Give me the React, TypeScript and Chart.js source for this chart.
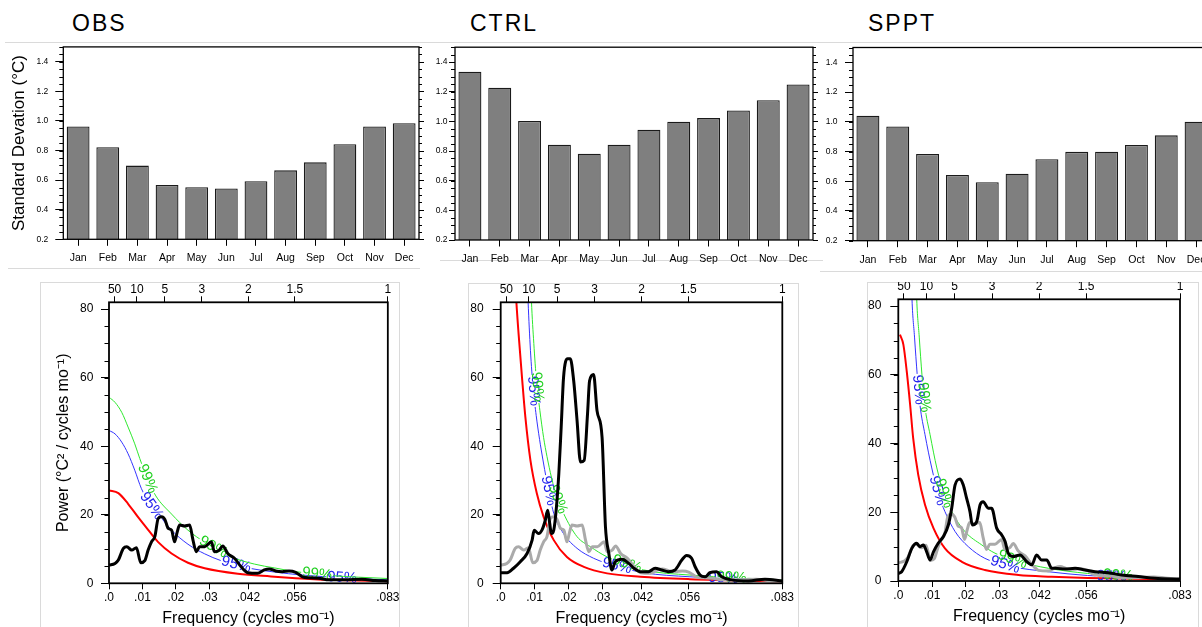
import React, { useEffect, useRef } from "react";
import { Chart, registerables } from "chart.js";

Chart.register(...registerables);

const FONT = "'Liberation Sans', Arial, Helvetica, sans-serif";
const LABEL_SIZE = 15;

// ---------- top row: monthly standard deviation ----------
const months = ["Jan", "Feb", "Mar", "Apr", "May", "Jun", "Jul", "Aug", "Sep", "Oct", "Nov", "Dec"];
const obsStd = [0.963, 0.822, 0.698, 0.567, 0.552, 0.543, 0.592, 0.666, 0.72, 0.843, 0.963, 0.984];
const ctrlStd = [1.335, 1.227, 1.003, 0.842, 0.782, 0.842, 0.943, 0.997, 1.022, 1.074, 1.142, 1.248];
const spptStd = [1.041, 0.968, 0.784, 0.642, 0.594, 0.651, 0.748, 0.798, 0.799, 0.844, 0.909, 1.0];
const stdTicks = [0.2, 0.4, 0.6, 0.8, 1.0, 1.2, 1.4];

// ---------- bottom row: power spectra ----------
const freqTicks = [0, 0.01, 0.02, 0.03, 1 / 24, 1 / 18, 1 / 12];
const freqTickLabels = [".0", ".01", ".02", ".03", ".042", ".056", ".083"];
const periodYears = [50, 10, 5, 3, 2, 1.5, 1];
const periodLabels = ["50", "10", "5", "3", "2", "1.5", "1"];
const powerTicks = [0, 20, 40, 60, 80];

// OBS spectrum
const obsFreq = [0, 0.0018, 0.0028, 0.0043, 0.0053, 0.0068, 0.0082, 0.0095, 0.0107, 0.0117, 0.0127, 0.0137, 0.0147, 0.0157, 0.0167, 0.0177, 0.0187, 0.0196, 0.0204, 0.0211, 0.0226, 0.0241, 0.0251, 0.0261, 0.0271, 0.0286, 0.0306, 0.0315, 0.033, 0.034, 0.0355, 0.0375, 0.0395, 0.0415, 0.0444, 0.0464, 0.0479, 0.0498, 0.0518, 0.0538, 0.0558, 0.0578, 0.0598, 0.0627, 0.0657, 0.0707, 0.0756, 0.0796, 0.0833];
const obsPower = [5.3, 5.8, 6.8, 10.2, 10.7, 9.7, 10.4, 6.0, 6.6, 9.7, 12.1, 13.6, 18.9, 19.4, 18.6, 16.0, 15.5, 12.1, 15.0, 17.0, 16.7, 17.0, 12.6, 9.2, 10.7, 10.7, 12.1, 9.2, 9.7, 10.9, 8.7, 7.3, 4.8, 3.1, 2.9, 3.9, 4.2, 3.6, 3.4, 3.6, 3.2, 1.9, 1.6, 1.5, 1.0, 1.0, 1.2, 0.8, 0.7];
const obsRedFreq = [0, 0.0028, 0.0057, 0.0087, 0.0117, 0.0147, 0.0187, 0.0236, 0.0286, 0.0385, 0.0484, 0.0558, 0.0657, 0.0833];
const obsRedPower = [27.1, 26.3, 23.2, 19.3, 15.6, 12.0, 8.7, 6.0, 4.4, 2.8, 2.0, 1.5, 1.0, 0.6];
const obs95Freq = [0, 0.0018, 0.0038, 0.0057, 0.0077, 0.0097, 0.0125, 0.0152, 0.0187, 0.0236, 0.0286, 0.0335, 0.0425, 0.0494, 0.0578, 0.07, 0.0833];
const obs95Power = [44.6, 43.6, 41.2, 37.8, 33.0, 27.6, 22.8, 19.6, 15.5, 11.4, 8.6, 6.6, 4.3, 3.3, 2.4, 1.6, 1.0];
const obs99Freq = [0, 0.0018, 0.0038, 0.0057, 0.0077, 0.0092, 0.0115, 0.014, 0.0187, 0.0236, 0.0286, 0.0365, 0.0435, 0.0494, 0.0558, 0.0657, 0.0833];
const obs99Power = [54.3, 52.8, 49.9, 45.6, 40.7, 36.4, 30.5, 25.5, 20.2, 15.5, 12.0, 7.7, 5.6, 4.5, 3.4, 2.3, 1.4];
const obsLabel95 = [0.0127, 0.038, 0.0697];
const obsLabel99 = [0.0115, 0.0312, 0.0622];

// CTRL spectrum
const ctrlFreq = [0, 0.0019, 0.0038, 0.0058, 0.0078, 0.0093, 0.0099, 0.0112, 0.0122, 0.0132, 0.0139, 0.0145, 0.015, 0.0157, 0.0165, 0.0172, 0.0179, 0.0186, 0.0198, 0.0206, 0.0216, 0.0226, 0.0236, 0.0247, 0.0257, 0.0263, 0.0275, 0.0285, 0.03, 0.031, 0.032, 0.0329, 0.0339, 0.0359, 0.0379, 0.0394, 0.0413, 0.0437, 0.0457, 0.0476, 0.0496, 0.0516, 0.0536, 0.055, 0.0565, 0.0575, 0.059, 0.0605, 0.0619, 0.0639, 0.0654, 0.0683, 0.0733, 0.0782, 0.0833];
const ctrlPower = [3.1, 3.1, 4.4, 6.3, 8.7, 12.6, 15.5, 14.5, 15.5, 18.4, 21.3, 17.5, 14.5, 15.5, 22.3, 32.0, 45.6, 60.1, 65.5, 65.5, 59.1, 47.5, 35.4, 35.9, 49.5, 59.1, 60.9, 50.4, 42.6, 16.5, 8.7, 3.9, 6.3, 7.0, 5.8, 4.4, 3.4, 3.4, 4.4, 3.9, 3.4, 3.9, 6.8, 8.1, 7.3, 4.9, 2.4, 1.9, 3.1, 3.4, 1.9, 1.0, 0.7, 1.2, 0.7];
const ctrlRedFreq = [0.004, 0.00462, 0.0053, 0.0063, 0.0073, 0.0088, 0.0107, 0.0127, 0.0157, 0.0196, 0.0246, 0.0315, 0.0413, 0.056, 0.0833];
const ctrlRedPower = [94, 82.4, 72.7, 60.1, 48.5, 35.9, 26.2, 19.4, 12.6, 7.7, 4.8, 2.9, 1.9, 1.2, 0.6];
const ctrl95Freq = [0.0075, 0.0081, 0.0088, 0.0096, 0.0105, 0.0115, 0.0125, 0.0135, 0.0145, 0.0157, 0.0186, 0.0226, 0.0275, 0.0315, 0.0423, 0.056, 0.07, 0.0833];
const ctrl95Power = [100, 82.4, 68, 57, 49, 42, 36, 30.5, 25.5, 20.4, 14.5, 10.2, 7.3, 5.8, 3.1, 1.9, 1.3, 0.9];
const ctrl99Freq = [0.0085, 0.0091, 0.0098, 0.0106, 0.0116, 0.0127, 0.0137, 0.015, 0.0165, 0.0186, 0.0226, 0.0265, 0.0315, 0.0423, 0.056, 0.07, 0.0833];
const ctrl99Power = [100, 82.4, 70, 59, 50.4, 42.5, 37, 31, 25.5, 20.4, 13.6, 10.7, 7.7, 3.9, 2.4, 1.6, 1.0];
const ctrlLabel95 = [0.0097, 0.0142, 0.0344, 0.0659];
const ctrlLabel99 = [0.0108, 0.0169, 0.0374, 0.0683];

// SPPT spectrum
const spptFreq = [0, 0.001, 0.0025, 0.004, 0.0054, 0.0064, 0.0074, 0.0084, 0.0094, 0.0104, 0.0118, 0.0133, 0.0148, 0.0158, 0.0168, 0.0183, 0.0192, 0.0202, 0.0212, 0.0219, 0.0232, 0.0242, 0.0251, 0.0266, 0.0276, 0.0291, 0.0306, 0.0316, 0.0325, 0.034, 0.036, 0.038, 0.0395, 0.0409, 0.0424, 0.0439, 0.0454, 0.0464, 0.0493, 0.0523, 0.0552, 0.0582, 0.0621, 0.0661, 0.071, 0.0759, 0.0833];
const spptPower = [2.2, 2.7, 5.6, 9.5, 11.0, 10.0, 10.5, 8.5, 6.1, 8.5, 11.0, 12.9, 16.3, 21.2, 28.0, 29.7, 28.0, 24.1, 20.2, 16.3, 17.3, 22.2, 23.1, 21.2, 21.2, 15.4, 13.4, 11.5, 8.1, 7.1, 7.6, 5.6, 4.7, 7.6, 6.1, 6.1, 3.7, 3.7, 3.5, 3.7, 3.2, 2.7, 2.4, 1.75, 1.3, 0.8, 0.5];
const spptRedFreq = [0.0005, 0.0015, 0.0025, 0.0035, 0.0044, 0.0059, 0.0079, 0.0104, 0.0138, 0.0188, 0.0256, 0.0355, 0.0454, 0.056, 0.0833];
const spptRedPower = [71.7, 68.8, 61.0, 51.3, 41.6, 30.9, 22.2, 15.4, 9.5, 5.6, 3.2, 1.75, 1.25, 0.9, 0.5];
const sppt95Freq = [0.0036, 0.004, 0.0048, 0.0056, 0.0064, 0.0079, 0.0099, 0.0118, 0.0138, 0.0168, 0.0207, 0.0256, 0.033, 0.0444, 0.056, 0.07, 0.0833];
const sppt95Power = [100, 83.4, 71, 60, 51.3, 42.6, 32.9, 25.5, 20.2, 14.4, 10.0, 6.6, 4.3, 2.7, 1.6, 1.0, 0.6];
const sppt99Freq = [0.005, 0.0054, 0.0062, 0.007, 0.0078, 0.0094, 0.0114, 0.0135, 0.0158, 0.0197, 0.0247, 0.0286, 0.035, 0.0444, 0.056, 0.07, 0.0833];
const sppt99Power = [100, 83.4, 71, 60, 51.3, 42.6, 32.9, 25.5, 20.2, 14.4, 10.5, 8.1, 5.8, 3.7, 2.2, 1.3, 0.8];
const spptLabel95 = [0.006, 0.0116, 0.0316, 0.0631];
const spptLabel99 = [0.0076, 0.0135, 0.0338, 0.0651];

const RED = "#ff0000";
const BLUE = "#3434ff";
const GREEN = "#2ee82e";

const pts = (fx: number[], vy: number[]) => fx.map((f, i) => ({ x: f, y: vy[i] }));

// ---------- plugin: NCL-style box, minor ticks, mirrored ticks, curve labels ----------
function labelGeo(chart: any, meta: any, ds: any) {
  const xs = chart.scales.x;
  const p = meta.data as any[];
  const yAt = (px: number) => {
    for (let i = 0; i < p.length - 1; i++) {
      const a = p[i];
      const b = p[i + 1];
      if (px >= a.x && px <= b.x) {
        const t = b.x === a.x ? 0 : (px - a.x) / (b.x - a.x);
        return a.y + t * (b.y - a.y);
      }
    }
    return p[p.length - 1].y;
  };
  const ctx = chart.ctx;
  ctx.save();
  ctx.font = `${LABEL_SIZE}px ${FONT}`;
  const w = ctx.measureText(ds.labelText).width;
  ctx.restore();
  return ds.labelFreqs.map((f: number) => {
    const px = xs.getPixelForValue(f);
    const py = yAt(px);
    const a = Math.atan2(yAt(px + 2) - yAt(px - 2), 4);
    return { x: px, y: py, a, w, h: LABEL_SIZE * 0.78 };
  });
}

const nclPlugin: any = {
  id: "ncl",
  beforeDatasetDraw(chart: any, args: any) {
    const ds: any = chart.data.datasets[args.index];
    if (!ds.labelFreqs) return;
    const geo = labelGeo(chart, args.meta, ds);
    ds._geo = geo;
    const ctx = chart.ctx;
    ctx.save();
    ctx.beginPath();
    ctx.rect(0, 0, chart.width, chart.height);
    for (const g of geo) {
      const hw = g.w / 2 + 1;
      const hh = g.h / 2;
      const c = Math.cos(g.a);
      const s = Math.sin(g.a);
      const corners = [[-hw, -hh], [hw, -hh], [hw, hh], [-hw, hh]].map(([u, v]) => [g.x + u * c - v * s, g.y + u * s + v * c]);
      ctx.moveTo(corners[0][0], corners[0][1]);
      for (let i = 1; i < 4; i++) ctx.lineTo(corners[i][0], corners[i][1]);
      ctx.closePath();
    }
    ctx.clip("evenodd");
  },
  afterDatasetDraw(chart: any, args: any) {
    const ds: any = chart.data.datasets[args.index];
    if (!ds.labelFreqs) return;
    const ctx = chart.ctx;
    ctx.restore();
    const ca = chart.chartArea;
    ctx.save();
    ctx.beginPath();
    ctx.rect(ca.left, ca.top, ca.right - ca.left, ca.bottom - ca.top);
    ctx.clip();
    ctx.font = `${LABEL_SIZE}px ${FONT}`;
    ctx.fillStyle = ds.labelColor;
    ctx.textAlign = "center";
    ctx.textBaseline = "middle";
    for (const g of ds._geo || []) {
      ctx.save();
      ctx.translate(g.x, g.y);
      ctx.rotate(g.a);
      ctx.fillText(ds.labelText, 0, 0);
      ctx.restore();
    }
    ctx.restore();
  },
  afterDraw(chart: any, _args: any, opts: any) {
    const ctx = chart.ctx;
    const ca = chart.chartArea;
    ctx.save();
    ctx.strokeStyle = "#000";
    ctx.lineWidth = opts.boxWidth || 1.2;
    ctx.strokeRect(ca.left, ca.top, ca.right - ca.left, ca.bottom - ca.top);
    ctx.lineWidth = 1;
    const ys = chart.scales.y;
    if (opts.minorStep) {
      const step = opts.minorStep;
      const k0 = Math.ceil(ys.min / step - 1e-6);
      const k1 = Math.floor(ys.max / step + 1e-6);
      for (let k = k0; k <= k1; k++) {
        const v = k * step;
        const py = Math.round(ys.getPixelForValue(v)) + 0.5;
        ctx.beginPath();
        ctx.moveTo(ca.left - opts.minorLen, py);
        ctx.lineTo(ca.left, py);
        ctx.stroke();
        if (opts.mirrorMajor) {
          const r = v / opts.majorStep;
          const major = Math.abs(r - Math.round(r)) < 1e-6;
          const len = major ? opts.mirrorMajor : opts.mirrorMinor;
          ctx.beginPath();
          ctx.moveTo(ca.right, py);
          ctx.lineTo(ca.right + len, py);
          ctx.stroke();
        }
      }
    }
    ctx.restore();
  },
};
Chart.register(nclPlugin);

const tickGrid = (len: number) => ({
  display: true,
  drawOnChartArea: false,
  drawTicks: true,
  tickLength: len,
  color: "#000",
  tickColor: "#000",
  lineWidth: 1,
  offset: false,
});

function barConfig(values: number[], o: any) {
  return {
    type: "bar",
    data: {
      labels: months,
      datasets: [
        {
          data: values,
          backgroundColor: "#7f7f7f",
          borderColor: "#1a1a1a",
          borderWidth: 1.3,
          borderSkipped: false,
          barPercentage: 0.77,
          categoryPercentage: 1,
        },
      ],
    },
    options: {
      animation: false,
      responsive: false,
      maintainAspectRatio: false,
      layout: { padding: { top: o.padTop, right: 8, left: 0, bottom: 0 } },
      plugins: {
        legend: { display: false },
        tooltip: { enabled: false },
        ncl: { boxWidth: 1.3, minorStep: 0.05, minorLen: 4, majorStep: 0.2, mirrorMajor: 5, mirrorMinor: 3 },
      },
      scales: {
        x: {
          type: "category",
          offset: true,
          grid: tickGrid(6.5),
          border: { display: false },
          ticks: { color: "#000", font: { family: FONT, size: 10.5 }, padding: 6.2, maxRotation: 0, minRotation: 0, autoSkip: false },
          afterFit: (s: any) => {
            s.height = o.xHeight;
          },
        },
        y: {
          type: "linear",
          min: 0.2,
          max: 1.5,
          grid: tickGrid(o.tl),
          border: { display: false },
          afterBuildTicks: (s: any) => {
            s.ticks = stdTicks.map((v) => ({ value: v }));
          },
          ticks: {
            color: "#000",
            font: { family: FONT, size: 8.5 },
            padding: o.pad,
            callback: (v: any) => Number(v).toFixed(1),
          },
          title: o.title
            ? { display: true, text: o.title, color: "#000", font: { family: FONT, size: 17 }, padding: { top: 9.1, bottom: 0 } }
            : { display: false },
          afterFit: (s: any) => {
            s.width = o.yWidth;
          },
        },
      },
    },
  };
}

function lineDs(data: any[], color: string, width: number, extra: any = {}) {
  return {
    data,
    borderColor: color,
    borderWidth: width,
    pointRadius: 0,
    pointHoverRadius: 0,
    fill: false,
    cubicInterpolationMode: "monotone",
    ...extra,
  };
}

function specConfig(datasets: any[], o: any) {
  return {
    type: "line",
    data: { datasets },
    options: {
      animation: false,
      responsive: false,
      maintainAspectRatio: false,
      layout: { padding: { top: 0, right: o.padRight, left: 0, bottom: 0 } },
      plugins: {
        legend: { display: false },
        tooltip: { enabled: false },
        ncl: { boxWidth: 1.8, minorStep: 5, minorLen: 4.5 },
      },
      scales: {
        x: {
          type: "linear",
          position: "bottom",
          min: 0,
          max: 1 / 12,
          grid: tickGrid(6),
          border: { display: false },
          afterBuildTicks: (s: any) => {
            s.ticks = freqTicks.map((v) => ({ value: v }));
          },
          ticks: {
            color: "#000",
            font: { family: FONT, size: 12 },
            padding: 1.5,
            maxRotation: 0,
            minRotation: 0,
            autoSkip: false,
            callback: (_v: any, i: number) => freqTickLabels[i],
          },
          title: {
            display: true,
            text: "Frequency (cycles mo\u207B\u00B9)",
            color: "#000",
            font: { family: FONT, size: 16 },
            padding: { top: 0, bottom: o.titlePadBottom },
          },
          afterFit: (s: any) => {
            s.height = o.botH;
          },
        },
        xTop: {
          type: "linear",
          position: "top",
          min: 0,
          max: 1 / 12,
          grid: tickGrid(6),
          border: { display: false },
          afterBuildTicks: (s: any) => {
            s.ticks = periodYears.map((p) => ({ value: 1 / (12 * p) }));
          },
          ticks: {
            color: "#000",
            font: { family: FONT, size: 12 },
            padding: -1,
            maxRotation: 0,
            minRotation: 0,
            autoSkip: false,
            callback: (_v: any, i: number) => periodLabels[i],
          },
          afterFit: (s: any) => {
            s.height = o.topH;
          },
        },
        y: {
          type: "linear",
          min: 0,
          max: 82,
          grid: tickGrid(8),
          border: { display: false },
          afterBuildTicks: (s: any) => {
            s.ticks = powerTicks.map((v) => ({ value: v }));
          },
          ticks: { color: "#000", font: { family: FONT, size: 12 }, padding: o.yPad, callback: (v: any) => String(v) },
          title: o.yTitle
            ? { display: true, text: o.yTitle, color: "#000", font: { family: FONT, size: 16 }, padding: { top: 13.7, bottom: 0 } }
            : { display: false },
          afterFit: (s: any) => {
            s.width = o.yWidth;
          },
        },
      },
    },
  };
}

function sigDatasets(f99: number[], p99: number[], l99: number[], f95: number[], p95: number[], l95: number[], fr: number[], pr: number[]) {
  return [
    lineDs(pts(f99, p99), GREEN, 1, { labelFreqs: l99, labelText: "99%", labelColor: "#1fd01f" }),
    lineDs(pts(f95, p95), BLUE, 1, { labelFreqs: l95, labelText: "95%", labelColor: "#2222ee" }),
    lineDs(pts(fr, pr), RED, 2),
  ];
}

const obsSpecDatasets = [
  lineDs(pts(obsFreq, obsPower), "#000", 3),
  ...sigDatasets(obs99Freq, obs99Power, obsLabel99, obs95Freq, obs95Power, obsLabel95, obsRedFreq, obsRedPower),
];
const ctrlSpecDatasets = [
  lineDs(pts(ctrlFreq, ctrlPower), "#000", 3),
  lineDs(pts(obsFreq, obsPower), "#aaaaaa", 3),
  ...sigDatasets(ctrl99Freq, ctrl99Power, ctrlLabel99, ctrl95Freq, ctrl95Power, ctrlLabel95, ctrlRedFreq, ctrlRedPower),
];
const spptSpecDatasets = [
  lineDs(pts(spptFreq, spptPower), "#000", 3),
  lineDs(pts(obsFreq, obsPower), "#aaaaaa", 3),
  ...sigDatasets(sppt99Freq, sppt99Power, spptLabel99, sppt95Freq, sppt95Power, spptLabel95, spptRedFreq, spptRedPower),
];

function ChartBox(props: { x: number; y: number; w: number; h: number; make: () => any }) {
  const ref = useRef<HTMLCanvasElement>(null);
  useEffect(() => {
    const chart = new Chart(ref.current as HTMLCanvasElement, props.make());
    return () => chart.destroy();
  }, []);
  return (
    <canvas
      ref={ref}
      width={props.w}
      height={props.h}
      style={{ position: "absolute", left: props.x, top: props.y, width: props.w, height: props.h }}
    />
  );
}

const titleStyle = (left: number): any => ({
  position: "absolute",
  left,
  top: 12,
  fontFamily: FONT,
  fontSize: 23,
  lineHeight: "23px",
  letterSpacing: "2px",
  color: "#000",
  whiteSpace: "nowrap",
});

const line = (left: number, top: number, width: number): any => ({
  position: "absolute",
  left,
  top,
  width,
  height: 1,
  background: "#dadada",
});

const frame = (left: number, top: number, width: number): any => ({
  position: "absolute",
  left,
  top,
  width,
  height: 400,
  border: "1px solid #dadada",
  boxSizing: "border-box",
});

export default function App() {
  return (
    <div style={{ position: "fixed", left: 0, top: 0, width: 1202, height: 627, overflow: "hidden", background: "#fff" }}>
      <div style={line(5, 42, 1197)} />
      <div style={line(8, 268, 412)} />
      <div style={line(440, 260, 383)} />
      <div style={line(820, 271, 382)} />
      <div style={frame(40, 282, 360)} />
      <div style={frame(468, 283, 331)} />
      <div style={frame(867, 282, 332)} />

      <div style={titleStyle(72)}>OBS</div>
      <div style={titleStyle(470)}>CTRL</div>
      <div style={titleStyle(868)}>SPPT</div>

      <ChartBox
        x={0}
        y={0}
        w={427}
        h={268}
        make={() => barConfig(obsStd, { padTop: 46.9, xHeight: 28.7, yWidth: 63.3, tl: 8, pad: 7, title: "Standard Devation (\u00B0C)" })}
      />
      <ChartBox x={420} y={0} w={401} h={268} make={() => barConfig(ctrlStd, { padTop: 47.2, xHeight: 28, yWidth: 35, tl: 6, pad: 1.5 })} />
      <ChartBox x={820} y={0} w={399} h={268} make={() => barConfig(spptStd, { padTop: 47.5, xHeight: 27.3, yWidth: 33, tl: 8, pad: 7.5 })} />

      <ChartBox
        x={40}
        y={282}
        w={361}
        h={345}
        make={() =>
          specConfig(obsSpecDatasets, {
            padRight: 12,
            yWidth: 69,
            topH: 20.3,
            botH: 43.7,
            titlePadBottom: -0.9,
            yPad: 7.7,
            yTitle: "Power (\u00B0C\u00B2 / cycles mo\u207B\u00B9)",
          })
        }
      />
      <ChartBox
        x={468}
        y={282}
        w={330}
        h={345}
        make={() => specConfig(ctrlSpecDatasets, { padRight: 15.7, yWidth: 32.7, topH: 20.3, botH: 43.7, titlePadBottom: -0.9, yPad: 9 })}
      />
      <ChartBox
        x={867}
        y={282}
        w={331}
        h={345}
        make={() => specConfig(spptSpecDatasets, { padRight: 18, yWidth: 31.3, topH: 17.3, botH: 46, titlePadBottom: 0.7, yPad: 9 })}
      />
    </div>
  );
}
